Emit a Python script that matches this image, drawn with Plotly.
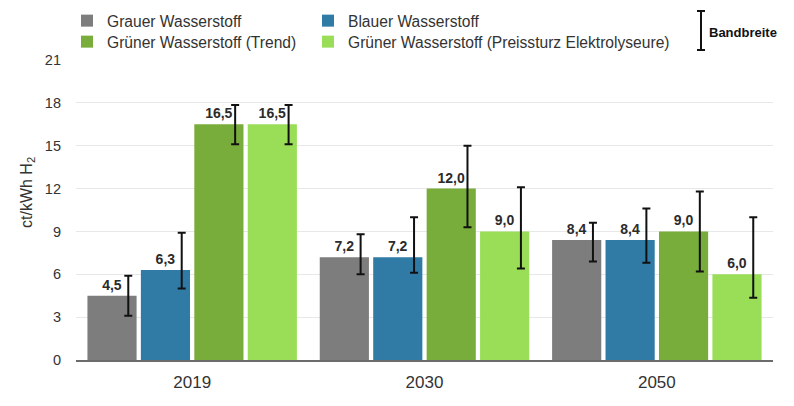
import plotly.graph_objects as go

years = ["2019", "2030", "2050"]
series_names = [
    "Grauer Wasserstoff",
    "Blauer Wasserstoff",
    "Grüner Wasserstoff (Trend)",
    "Grüner Wasserstoff (Preissturz Elektrolyseure)",
]
grau = [4.5, 7.2, 8.4]
blau = [6.3, 7.2, 8.4]
gruen_trend = [16.5, 12.0, 9.0]
gruen_preis = [16.5, 9.0, 6.0]

grau_hi = [5.9, 8.8, 9.6]
grau_lo = [3.1, 6.0, 6.9]
blau_hi = [8.9, 10.0, 10.6]
blau_lo = [5.0, 6.1, 6.8]
trend_hi = [17.85, 15.0, 11.8]
trend_lo = [15.1, 9.3, 6.2]
preis_hi = [17.85, 12.1, 10.0]
preis_lo = [15.1, 6.4, 4.35]

colors = ["#7d7d7d", "#2f7ba6", "#79ad3b", "#9ade58"]
y_ticks = [0, 3, 6, 9, 12, 15, 18, 21]

values = [grau, blau, gruen_trend, gruen_preis]
highs = [grau_hi, blau_hi, trend_hi, preis_hi]
lows = [grau_lo, blau_lo, trend_lo, preis_lo]
legend_ids = ["legend", "legend2", "legend3", "legend4"]
# legend anchor positions in screen pixels (left, top)
legend_pos = [(67, 4), (308, 4), (67, 25), (308, 25)]

BARGAP = 0.08
BARGROUPGAP = 0.08
ERR_SHIFT = 0.07  # error bars drawn right of bar centre

FONT = "Liberation Sans, Arial, Helvetica, sans-serif"
OFF = 8  # page body margin
W, H = 794 - OFF, 406 - OFF
# plot area in screen pixels: x 76..773, y 60..360
L, T = 76 - OFF, 60 - OFF
R, B = W - (773 - OFF), H - (360 - OFF)
PW, PH = W - L - R, H - T - B

def px(x):
    return (x - OFF - L) / PW

def py(y):
    return (H - B - (y - OFF)) / PH

xidx = list(range(len(years)))
fig = go.Figure()
n = len(values)
slot = (1 - BARGAP) / n
for i, (name, vals) in enumerate(zip(series_names, values)):
    fig.add_trace(go.Bar(
        x=xidx, y=vals, name=name,
        marker=dict(color=colors[i], line=dict(width=0)),
        texttemplate="<b>%{y:.1f}</b>", textposition="outside",
        textangle=0, cliponaxis=False,
        textfont=dict(family=FONT, size=14, color="#2b2b2b"),
        legend=legend_ids[i], hoverinfo="skip",
    ))
for i, vals in enumerate(values):
    centre = -(1 - BARGAP) / 2 + slot * (i + 0.5) + ERR_SHIFT
    mid = [(h + l) / 2 for h, l in zip(highs[i], lows[i])]
    fig.add_trace(go.Scatter(
        x=[k + centre for k in xidx], y=mid, mode="markers",
        marker=dict(size=0.1, color="rgba(0,0,0,0)"),
        error_y=dict(type="data", symmetric=False,
                     array=[h - m for h, m in zip(highs[i], mid)],
                     arrayminus=[m - l for m, l in zip(mid, lows[i])],
                     color="#111111", thickness=2, width=4),
        showlegend=False, hoverinfo="skip", cliponaxis=False,
    ))

legend_common = dict(
    orientation="v", xanchor="left", yanchor="top",
    font=dict(family=FONT, size=15.6, color="#333333"),
    bgcolor="rgba(0,0,0,0)", itemclick=False, itemdoubleclick=False,
)
legends = {}
for lid, (lx, ly) in zip(legend_ids, legend_pos):
    legends[lid] = dict(x=px(lx), y=py(ly), **legend_common)

fig.update_layout(
    width=W, height=H,
    margin=dict(l=L, r=R, t=T, b=B, pad=0, autoexpand=False),
    paper_bgcolor="white", plot_bgcolor="white",
    barmode="group", bargap=BARGAP, bargroupgap=BARGROUPGAP,
    separators=",.",
    font=dict(family=FONT, color="#333333"),
    xaxis=dict(
        range=[-0.5, 2.5], tickvals=xidx, ticktext=years,
        showgrid=False, zeroline=False,
        showline=True, linecolor="#6b6b6b", linewidth=2,
        ticks="", ticklabelstandoff=6,
        tickfont=dict(family=FONT, size=17, color="#333333"),
    ),
    yaxis=dict(
        range=[0, 21], tickvals=y_ticks,
        showgrid=True, gridcolor="#e8e8e8", gridwidth=1,
        zeroline=False, showline=False, ticks="",
        ticklabelstandoff=14,
        tickfont=dict(family=FONT, size=14.5, color="#333333"),
    ),
    shapes=[
        dict(type="line", xref="paper", yref="paper",
             x0=px(701), x1=px(701), y0=py(11), y1=py(50),
             line=dict(color="#111111", width=2)),
        dict(type="line", xref="paper", yref="paper",
             x0=px(697), x1=px(705), y0=py(11), y1=py(11),
             line=dict(color="#111111", width=2)),
        dict(type="line", xref="paper", yref="paper",
             x0=px(697), x1=px(705), y0=py(50), y1=py(50),
             line=dict(color="#111111", width=2)),
    ],
    annotations=[
        dict(text="<b>Bandbreite</b>", xref="paper", yref="paper",
             x=px(707), y=py(32), xanchor="left", yanchor="middle",
             showarrow=False,
             font=dict(family=FONT, size=13, color="#111111")),
        dict(text="ct/kWh H<sub>2</sub>", xref="paper", yref="paper",
             x=px(27), y=py(193), xanchor="center", yanchor="middle",
             textangle=-90, showarrow=False,
             font=dict(family=FONT, size=16, color="#333333")),
    ],
    **legends,
)

fig.write_html("out.html")
